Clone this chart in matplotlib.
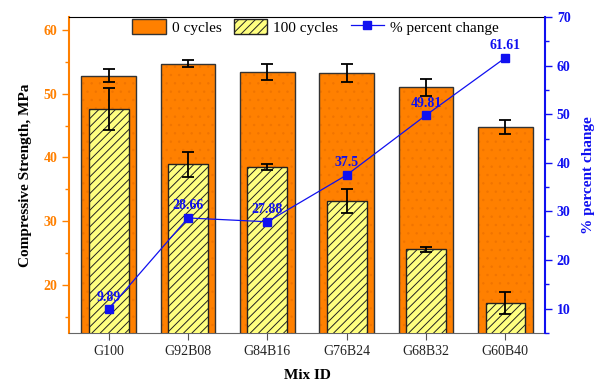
import matplotlib
matplotlib.use("Agg")
import matplotlib.pyplot as plt
import numpy as np
from matplotlib.patches import Patch
from matplotlib.lines import Line2D
from matplotlib.ticker import MultipleLocator

plt.rcParams['font.family'] = ['Liberation Serif', 'DejaVu Serif']

mixes = ["G100", "G92B08", "G84B16", "G76B24", "G68B32", "G60B40"]
strength_0 = [52.8, 54.7, 53.4, 53.2, 51.0, 44.8]
err_0 = [1.0, 0.5, 1.3, 1.4, 1.3, 1.1]
strength_100 = [47.6, 38.9, 38.5, 33.2, 25.6, 17.2]
err_100 = [3.3, 1.9, 0.5, 1.9, 0.4, 1.7]
pct_change = [9.89, 28.66, 27.88, 37.5, 49.81, 61.61]

ORANGE = "#FF8000"
YELLOW = "#FFFF80"
BLUE = "#1010F0"

fig = plt.figure(figsize=(6.03, 3.85), dpi=100)
ax = fig.add_axes([69/603, 1-333/385, (545-69)/603, (333-17)/385])
x = np.arange(len(mixes))

# orange bars with faint dot texture
plt.rcParams['hatch.linewidth'] = 0.5
ax.bar(x, strength_0, width=0.69, color=ORANGE, edgecolor="#F07400", hatch="..", linewidth=0, zorder=2)
ax.bar(x, strength_0, width=0.69, fill=False, edgecolor="#333333", linewidth=1.0, zorder=3)
ax.errorbar(x, strength_0, yerr=err_0, fmt='none', ecolor='black', elinewidth=1.3, capsize=4, capthick=1.3, zorder=6)

plt.rcParams['hatch.linewidth'] = 0.7
ax.bar(x, strength_100, width=0.5, color=YELLOW, edgecolor="#222222", hatch="////", linewidth=1.0, zorder=4)
ax.errorbar(x, strength_100, yerr=err_100, fmt='none', ecolor='black', elinewidth=1.3, capsize=4, capthick=1.3, zorder=6)

ax.set_xlim(-0.5, 5.5)
ax.set_ylim(12.5, 62)
ax.set_xticks(x)
ax.set_xticklabels(mixes, fontsize=10, color="#222222")
ax.yaxis.set_major_locator(MultipleLocator(10))
ax.yaxis.set_minor_locator(MultipleLocator(5))
ax.tick_params(axis='y', which='both', colors=ORANGE, labelsize=10, direction='out')
ax.tick_params(axis='y', which='major', length=5, width=1)
ax.tick_params(axis='y', which='minor', length=3, width=1)
for lab in ax.get_yticklabels():
    lab.set_fontweight('bold')
ax.tick_params(axis='x', length=5, color="#555555")
ax.spines['left'].set_color(ORANGE)
ax.spines['left'].set_linewidth(1.5)
ax.spines['bottom'].set_color("#666666")
ax.spines['top'].set_color("black")
ax.spines['right'].set_visible(False)
ax.set_ylabel("Compressive Strength, MPa", fontsize=11, fontweight='bold', color='black', labelpad=8)
ax.set_xlabel("Mix ID", fontsize=11, fontweight='bold', labelpad=8)

ax2 = ax.twinx()
ax2.plot(x, pct_change, color=BLUE, linewidth=0.9, marker='s', markersize=6, zorder=7)
for xi, v in zip(x, pct_change):
    ax2.annotate(f"{v:g}", (xi, v), xytext=(0, 4), textcoords='offset points',
                 ha='center', va='bottom', color=BLUE, fontsize=10, fontweight='bold', zorder=8)
ax2.set_ylim(5, 70)
ax2.yaxis.set_major_locator(MultipleLocator(10))
ax2.yaxis.set_minor_locator(MultipleLocator(5))
ax2.tick_params(axis='y', which='both', colors=BLUE, labelsize=10, direction='out')
ax2.tick_params(axis='y', which='major', length=5, width=1)
ax2.tick_params(axis='y', which='minor', length=3, width=1)
for lab in ax2.get_yticklabels():
    lab.set_fontweight('bold')
ax2.spines['right'].set_color(BLUE)
ax2.spines['right'].set_linewidth(1.5)
ax2.spines['left'].set_visible(False)
ax2.spines['top'].set_visible(False)
ax2.spines['bottom'].set_visible(False)
ax2.set_ylabel("% percent change", fontsize=11, fontweight='bold', color=BLUE, labelpad=8)

handles = [
    Patch(facecolor=ORANGE, edgecolor="#333333", linewidth=1.0, label="0 cycles"),
    Patch(facecolor=YELLOW, edgecolor="#222222", hatch="////", linewidth=1.0, label="100 cycles"),
    Line2D([0], [0], color=BLUE, marker='s', markersize=6, linewidth=0.9, label="% percent change"),
]
leg = ax2.legend(handles=handles, loc='upper center', bbox_to_anchor=(0.518, 1.0), ncol=3,
                 frameon=False, fontsize=11, handlelength=2.2, handleheight=1.2,
                 borderaxespad=0.0, columnspacing=0.8, handletextpad=0.4, borderpad=0.1)
leg.set_zorder(10)

fig.savefig("out.png", dpi=100)
